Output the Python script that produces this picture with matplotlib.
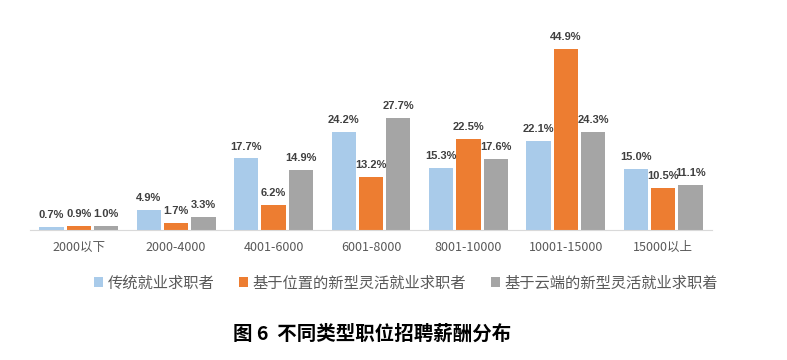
import numpy as np
import matplotlib.pyplot as plt

plt.rcParams['font.family'] = ['Noto Sans CJK SC', 'DejaVu Sans']

categories = ["2000以下", "2000-4000", "4001-6000", "6001-8000",
              "8001-10000", "10001-15000", "15000以上"]
series_names = ["传统就业求职者", "基于位置的新型灵活就业求职者", "基于云端的新型灵活就业求职着"]
traditional = [0.7, 4.9, 17.7, 24.2, 15.3, 22.1, 15.0]
location_based = [0.9, 1.7, 6.2, 13.2, 22.5, 44.9, 10.5]
cloud_based = [1.0, 3.3, 14.9, 27.7, 17.6, 24.3, 11.1]
colors = ["#A9CBEA", "#ED7D31", "#A5A5A5"]

fig = plt.figure(figsize=(7.87, 3.6), dpi=100)
ax = fig.add_axes([30 / 787, 130 / 360, 682 / 787, 202 / 360])

x = np.arange(len(categories))
w = 0.25
step = 0.28
for i, (vals, name, c) in enumerate(zip([traditional, location_based, cloud_based], series_names, colors)):
    bars = ax.bar(x + (i - 1) * step, vals, width=w, color=c, label=name)
    ax.bar_label(bars, labels=[f"{v:.1f}%" for v in vals], padding=5,
                 fontsize=8, fontweight='bold', color='#404040', family='Liberation Sans')

ax.set_xlim(-0.5, len(categories) - 0.5)
ax.set_ylim(0, 50)
ax.set_xticks(x)
ax.set_xticklabels(categories, fontsize=9, color='#595959')
ax.tick_params(axis='x', length=0, pad=8)
ax.set_yticks([])
for s in ['top', 'right', 'left']:
    ax.spines[s].set_visible(False)
ax.spines['bottom'].set_color('#D9D9D9')

fig.legend(loc='center', bbox_to_anchor=(406 / 787, 1 - 283 / 360), ncol=3, frameon=False,
           fontsize=11, labelcolor='#595959', handlelength=0.6, handleheight=0.6,
           handletextpad=0.3, columnspacing=1.6)

fig.text(372 / 787, 1 - 334 / 360, "图 6  不同类型职位招聘薪酬分布", ha='center', va='center',
         fontsize=14, fontweight='bold', color='black')

fig.savefig("out.png", dpi=100)
